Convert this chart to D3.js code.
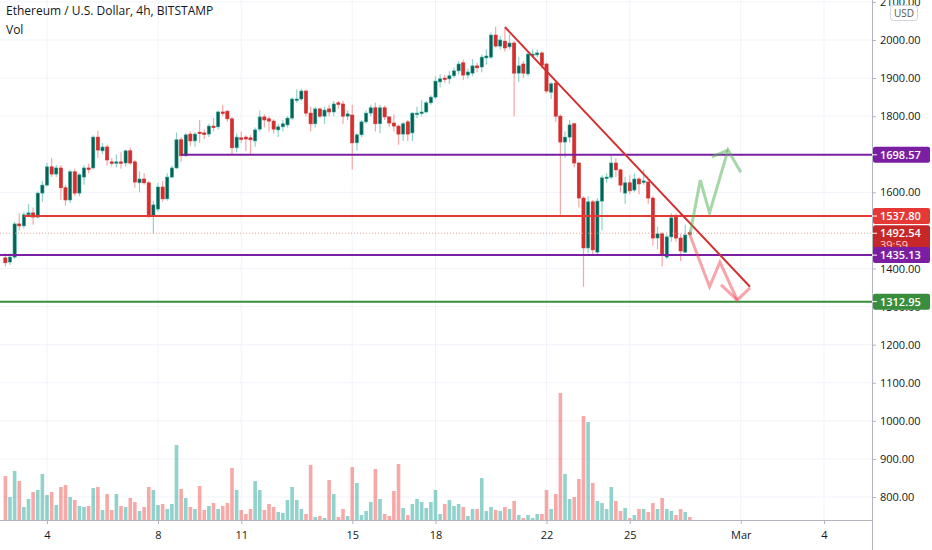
<!DOCTYPE html>
<html><head><meta charset="utf-8">
<script src="https://cdn.jsdelivr.net/npm/d3@7"></script>
<style>body{margin:0;background:#fff;font-family:"Open Sans","Noto Sans",sans-serif}</style>
</head><body><svg id="c" width="932" height="550"></svg>
<script>
const startTime = "2021-02-02T12:00";
const opens = [1428,1417,1430,1517,1512,1541,1546,1535,1598,1619,1667,1648,1664,1612,1580,1654,1598,1640,1664,1664,1745,1709,1719,1680,1677,1680,1677,1709,1680,1625,1635,1625,1538,1556,1614,1583,1640,1664,1738,1696,1753,1735,1758,1756,1753,1774,1772,1811,1813,1793,1717,1743,1745,1743,1735,1766,1798,1793,1787,1764,1772,1777,1795,1843,1845,1866,1808,1780,1819,1800,1819,1811,1835,1832,1800,1803,1730,1751,1785,1808,1822,1780,1822,1798,1782,1774,1753,1785,1756,1806,1808,1811,1835,1850,1890,1900,1898,1906,1919,1940,1908,1913,1932,1929,1953,1955,2013,1984,1997,1982,1992,1913,1937,1911,1961,1961,1966,1937,1863,1887,1800,1732,1745,1780,1677,1585,1454,1575,1443,1577,1638,1640,1677,1659,1598,1625,1606,1635,1627,1627,1585,1480,1491,1430,1483,1535,1480,1443,1494];
const highs = [1440,1440,1522,1545,1548,1570,1560,1602,1630,1678,1690,1672,1672,1620,1660,1662,1650,1672,1675,1750,1762,1730,1725,1690,1700,1705,1712,1718,1685,1655,1650,1630,1578,1625,1630,1650,1670,1757,1745,1755,1760,1758,1790,1765,1780,1795,1815,1830,1816,1798,1755,1760,1750,1750,1770,1815,1805,1800,1792,1780,1790,1800,1850,1870,1872,1870,1825,1825,1822,1825,1830,1840,1840,1840,1815,1830,1755,1790,1815,1830,1835,1830,1828,1800,1805,1778,1785,1790,1810,1825,1842,1840,1855,1905,1910,1908,1918,1928,1945,1948,1925,1950,1940,1962,1975,2020,2035,2010,2030,2015,1998,1955,1945,1970,1975,1975,1970,1940,1890,1892,1805,1760,1790,1782,1680,1590,1590,1580,1585,1645,1650,1700,1690,1662,1640,1645,1650,1640,1660,1632,1590,1510,1495,1490,1545,1545,1490,1515,1500];
const lows = [1405,1410,1425,1500,1505,1535,1515,1532,1575,1615,1640,1640,1580,1565,1572,1590,1590,1620,1650,1660,1690,1700,1670,1670,1665,1662,1668,1672,1612,1600,1620,1532,1492,1550,1575,1578,1638,1662,1680,1692,1722,1720,1730,1740,1745,1760,1765,1800,1785,1697,1705,1730,1708,1700,1720,1760,1770,1760,1755,1745,1760,1770,1790,1835,1840,1800,1760,1770,1795,1780,1800,1800,1820,1780,1790,1660,1710,1745,1780,1800,1760,1755,1790,1772,1760,1725,1735,1735,1735,1795,1800,1808,1830,1845,1875,1888,1885,1900,1910,1895,1898,1905,1915,1915,1935,1950,1980,1975,1970,1975,1800,1890,1900,1905,1955,1955,1925,1860,1845,1785,1541,1690,1730,1665,1560,1352,1440,1435,1435,1500,1625,1635,1640,1600,1570,1595,1600,1595,1620,1570,1460,1450,1405,1425,1470,1470,1420,1440,1485];
const closes = [1415,1430,1517,1512,1541,1546,1535,1598,1619,1667,1648,1664,1612,1580,1654,1598,1646,1664,1661,1745,1711,1719,1685,1677,1680,1677,1709,1677,1627,1635,1625,1538,1567,1614,1583,1640,1664,1738,1696,1751,1735,1753,1756,1753,1774,1772,1811,1808,1793,1717,1745,1740,1740,1738,1764,1798,1790,1787,1766,1772,1780,1795,1845,1845,1866,1808,1780,1819,1800,1816,1811,1832,1832,1800,1806,1730,1751,1785,1808,1822,1780,1822,1798,1782,1774,1753,1780,1753,1808,1808,1811,1835,1850,1892,1898,1898,1906,1919,1937,1908,1916,1932,1927,1955,1958,2013,1984,2000,1979,1992,1913,1932,1913,1963,1963,1966,1934,1866,1885,1800,1732,1745,1777,1677,1585,1454,1575,1449,1577,1638,1640,1677,1659,1619,1625,1604,1635,1622,1630,1585,1480,1491,1436,1483,1533,1480,1446,1488,1492];
const volumes = [48,27,53,43,17,25,32,34,50,29,32,19,37,39,27,24,18,17,18,36,37,14,30,14,30,18,17,26,22,13,17,37,34,19,20,15,20,79,35,26,17,15,38,14,18,21,15,18,21,56,34,14,10,15,43,34,14,20,17,12,11,24,37,24,15,10,59,7,8,6,44,30,7,15,8,57,41,9,13,22,55,25,10,8,33,60,16,9,20,25,22,16,22,34,10,20,24,18,20,17,8,15,15,46,13,17,14,13,17,15,23,9,6,9,6,10,10,34,15,30,131,50,25,27,45,108,102,41,23,21,15,37,23,13,16,6,9,15,15,12,21,15,26,15,13,9,15,12,7];
const priceTicks = [800,900,1000,1100,1200,1300,1400,1600,1800,1900,2000,2100];
const dayTicks = ["2021-02-04","2021-02-08","2021-02-11","2021-02-15","2021-02-18","2021-02-22","2021-02-25","2021-03-01","2021-03-04"];
const dayLabels = ["4","8","11","15","18","22","25","Mar","4"];
const levels = [
 {price:1698.57, from:"2021-02-08T20:00", color:"#7b1fa2", label:"1698.57"},
 {price:1537.80, from:"2021-02-03T04:00", color:"#e53935", label:"1537.80"},
 {price:1435.13, from:"2021-02-02T00:00", color:"#7b1fa2", label:"1435.13"},
 {price:1312.95, from:"2021-02-02T00:00", color:"#388e3c", label:"1312.95"}];
const lastPrice = 1492.54, countdown = "39:59";
const trendTimes = ["2021-02-20T12:00","2021-03-01T08:00"], trendPrices = [2034,1352];
const greenTimes = ["2021-02-27T04:00","2021-02-27T13:00","2021-02-27T21:00","2021-02-28T13:00","2021-03-01T00:00"];
const greenPrices = [1488,1632,1546,1711,1653];
const greenWingT = ["2021-02-27T23:00","2021-02-28T13:00"], greenWingP=[1693,1711];
const redTimes = ["2021-02-27T04:00","2021-02-27T21:00","2021-02-28T06:00","2021-02-28T21:00"];
const redPrices = [1488,1352,1417,1317];
const redWingT = ["2021-02-28T07:00","2021-02-28T21:00","2021-03-01T08:00"], redWingP=[1357,1317,1349];

const svg = d3.select("#c");
const W=872, H=520;
const x = d3.scaleTime().domain([new Date("2021-02-04T00:00"), new Date("2021-03-04T00:00")]).range([47,824]);
const y = d3.scaleLinear().domain([800,2000]).range([497,40]);
const yv = d3.scaleLinear().domain([0,131]).range([524,393]);
const t0 = new Date(startTime).getTime();
const data = opens.map((o,i)=>({t:new Date(t0+i*4*3600e3),o,h:highs[i],l:lows[i],c:closes[i],v:volumes[i]}));
svg.append("defs").append("clipPath").attr("id","clip").append("rect").attr("width",W).attr("height",H);
const g = svg.append("g").attr("clip-path","url(#clip)");
g.selectAll(".hg").data(priceTicks).join("line").attr("x1",0).attr("x2",W).attr("y1",d=>y(d)).attr("y2",d=>y(d)).attr("stroke","#f0f3fa");
g.selectAll(".vg").data(dayTicks).join("line").attr("x1",d=>x(new Date(d+"T00:00"))).attr("x2",d=>x(new Date(d+"T00:00"))).attr("y1",0).attr("y2",H).attr("stroke","#f0f3fa");
g.selectAll(".vol").data(data).join("rect").attr("x",d=>x(d.t)-1.8).attr("width",3.6).attr("y",d=>yv(d.v)).attr("height",d=>yv(0)-yv(d.v))
 .attr("fill",d=>d.c>=d.o?"#26a69a":"#ef5350").attr("opacity",0.5);
g.selectAll(".wick").data(data).join("line").attr("x1",d=>x(d.t)).attr("x2",d=>x(d.t)).attr("y1",d=>y(d.h)).attr("y2",d=>y(d.l))
 .attr("stroke",d=>d.c>=d.o?"#8fd3ca":"#f5a6a6").attr("stroke-width",1.2);
g.selectAll(".body").data(data).join("rect").attr("x",d=>x(d.t)-1.6).attr("width",3.2)
 .attr("y",d=>y(Math.max(d.o,d.c))).attr("height",d=>Math.max(1.5,Math.abs(y(d.o)-y(d.c))))
 .attr("fill",d=>d.c>=d.o?"#0a5e52":"#d32f2f").attr("stroke",d=>d.c>=d.o?"#26a69a":"#d32f2f").attr("stroke-width",0.6);
g.append("line").attr("x1",0).attr("x2",W).attr("y1",y(lastPrice)).attr("y2",y(lastPrice)).attr("stroke","#f28b82").attr("stroke-dasharray","1,2").attr("opacity",0.8);
levels.forEach(L=>g.append("line").attr("x1",x(new Date(L.from))).attr("x2",W).attr("y1",y(L.price)).attr("y2",y(L.price)).attr("stroke",L.color).attr("stroke-width",2));
const line = d3.line().x(d=>x(new Date(d[0]))).y(d=>y(d[1]));
const path=(T,P,col,w)=>g.append("path").attr("d",line(T.map((t,i)=>[t,P[i]]))).attr("fill","none").attr("stroke",col).attr("stroke-width",w).attr("stroke-linejoin","miter");
path(trendTimes,trendPrices,"#d32f2f",2);
path(greenTimes,greenPrices,"rgba(76,175,80,0.5)",3);
path(greenWingT,greenWingP,"rgba(76,175,80,0.5)",3);
path(redTimes,redPrices,"rgba(242,54,69,0.45)",3);
path(redWingT,redWingP,"rgba(242,54,69,0.45)",3);
svg.append("line").attr("x1",W+0.5).attr("x2",W+0.5).attr("y1",0).attr("y2",550).attr("stroke","#b2b5be");
svg.append("line").attr("x1",0).attr("x2",W).attr("y1",H+0.5).attr("y2",H+0.5).attr("stroke","#b2b5be");
const ya = svg.append("g").attr("transform",`translate(${W},0)`).call(d3.axisRight(y).tickValues(priceTicks).tickSize(4).tickFormat(d3.format(".2f")));
ya.select(".domain").remove();
ya.selectAll("text").attr("fill","#131722").attr("font-size",11).attr("x",8).attr("font-family","Open Sans");
ya.selectAll("line").attr("stroke","#b2b5be");
const xa = svg.append("g").attr("transform",`translate(0,${H})`).call(d3.axisBottom(x).tickValues(dayTicks.map(d=>new Date(d+"T00:00"))).tickSize(4).tickFormat((d,i)=>dayLabels[i]));
xa.select(".domain").remove();
xa.selectAll("text").attr("fill","#131722").attr("font-size",11).attr("dy","1.1em").attr("font-family","Open Sans");
xa.selectAll("line").attr("stroke","#b2b5be");
const tag=(p,col,txt,extra)=>{const yy=y(p);const h=extra?28:16;
 svg.append("rect").attr("x",W+1).attr("y",yy-8).attr("width",57).attr("height",h).attr("rx",2).attr("fill",col);
 svg.append("line").attr("x1",W).attr("x2",W+5).attr("y1",yy).attr("y2",yy).attr("stroke","#fff");
 svg.append("text").attr("x",W+8).attr("y",yy+4).attr("fill","#fff").attr("font-size",11).attr("font-weight",600).text(txt);
 if(extra) svg.append("text").attr("x",W+8).attr("y",yy+16).attr("fill","#ffcdd2").attr("font-size",11).text(extra);};
tag(lastPrice,"#c62828",lastPrice.toFixed(2),countdown);
levels.forEach(L=>tag(L.price,L.color,L.label));
svg.append("rect").attr("x",890.5).attr("y",5.5).attr("width",27).attr("height",15).attr("rx",3).attr("fill","#fff").attr("stroke","#d1d4dc");
svg.append("text").attr("x",904).attr("y",17).attr("text-anchor","middle").attr("font-size",10).attr("fill","#555").text("USD");
svg.append("text").attr("x",6).attr("y",15).attr("font-size",12).attr("fill","#131722").text("Ethereum / U.S. Dollar, 4h, BITSTAMP");
svg.append("text").attr("x",6).attr("y",34).attr("font-size",12).attr("fill","#131722").text("Vol");
</script></body></html>
